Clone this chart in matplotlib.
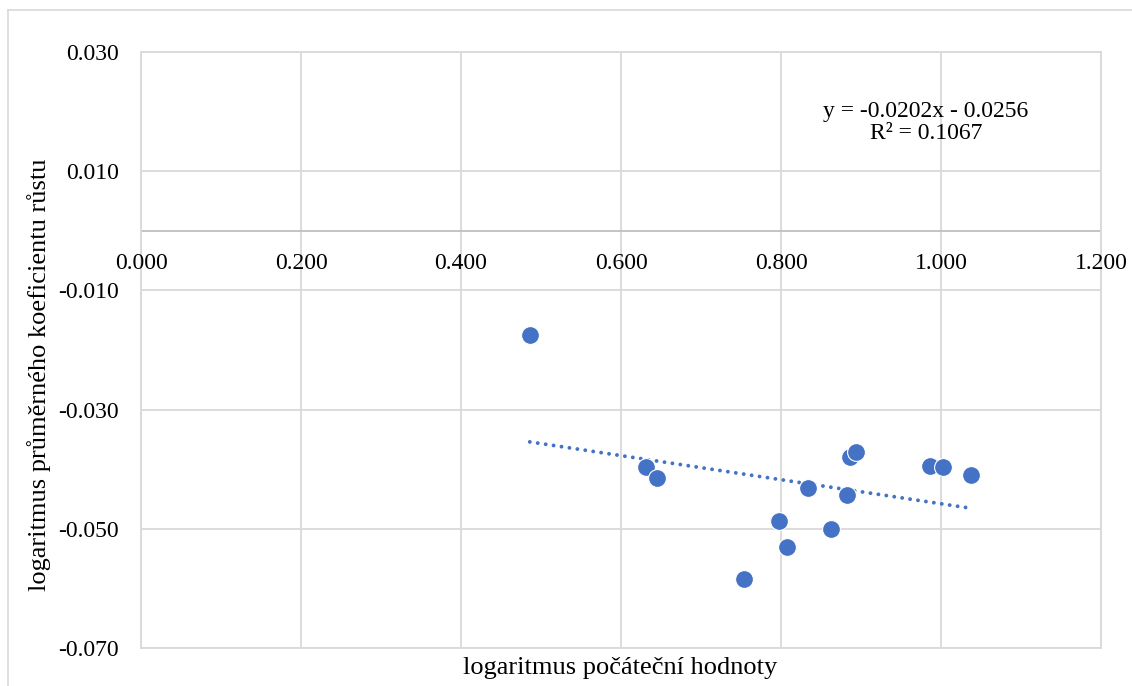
import matplotlib
matplotlib.use("Agg")
import matplotlib.pyplot as plt
from matplotlib.lines import Line2D
import numpy as np

# initial value (log) vs. average growth coefficient (log)
x_vals = [0.486, 0.631, 0.645, 0.754, 0.798, 0.808, 0.834, 0.862,
          0.882, 0.886, 0.894, 0.986, 1.002, 1.037]
y_vals = [-0.0174, -0.0396, -0.0415, -0.0584, -0.0487, -0.0531, -0.0432,
          -0.0501, -0.0444, -0.0379, -0.0371, -0.0394, -0.0396, -0.0409]

# trendline as reported in the chart
slope = -0.0202
intercept = -0.0256
r_squared = 0.1067

x_ticks = [0.0, 0.2, 0.4, 0.6, 0.8, 1.0, 1.2]
y_ticks = [0.03, 0.01, -0.01, -0.03, -0.05, -0.07]

x_label = "logaritmus počáteční hodnoty"
y_label = "logaritmus průměrného koeficientu růstu"

plt.rcParams["font.family"] = ["Liberation Serif", "DejaVu Serif"]

blue = "#4472c4"
grid = "#d9d9d9"

fig = plt.figure(figsize=(11.32, 6.86), dpi=100)
ax = fig.add_axes([141 / 1132, 1 - 648 / 686, 960 / 1132, 596 / 686])

ax.set_xlim(0, 1.2)
ax.set_ylim(-0.07, 0.03)
ax.set_xticks(x_ticks)
ax.set_yticks(y_ticks)
ax.set_yticklabels([f"{v:.3f}" for v in y_ticks])
ax.set_xticklabels([])
ax.grid(True, color=grid, linewidth=1.3)
ax.set_axisbelow(True)
ax.tick_params(length=0, labelsize=17)
ax.tick_params(axis="y", pad=16)
for s in ax.spines.values():
    s.set_color(grid)
    s.set_linewidth(1.3)

# x axis crosses at y = 0, labels sit under it
ax.axhline(0, color="#bfbfbf", linewidth=1.3, zorder=1)
for t in x_ticks:
    ax.text(t, -0.0038, f"{t:.3f}", ha="center", va="top", fontsize=17)

ax.scatter(x_vals, y_vals, s=165, color=blue, edgecolors="white", linewidths=0.8, zorder=3)

tx = np.array([min(x_vals), max(x_vals) - 0.005])
ax.plot(tx, slope * tx + intercept, color=blue, linewidth=2.8, linestyle=(0, (0.01, 2.05)),
        dash_capstyle="round", zorder=2)

ax.text(0.981, 0.0182, f"y = {slope:.4f}x - {abs(intercept):.4f}\nR² = {r_squared:.4f}",
        ha="center", va="center", fontsize=17, linespacing=1.05)

fig.text(620 / 1132, 1 - 668 / 686, x_label, ha="center", va="center", fontsize=19)
fig.text(39 / 1132, 1 - 375 / 686, y_label, ha="center", va="center", fontsize=19,
         rotation=90)

# outer chart border
fig.add_artist(Line2D([8 / 1132, 1], [1 - 10 / 686] * 2, color=grid, linewidth=1.2,
                      transform=fig.transFigure))
fig.add_artist(Line2D([8 / 1132] * 2, [0, 1 - 10 / 686], color=grid, linewidth=1.2,
                      transform=fig.transFigure))

fig.savefig("out.png", dpi=100)
